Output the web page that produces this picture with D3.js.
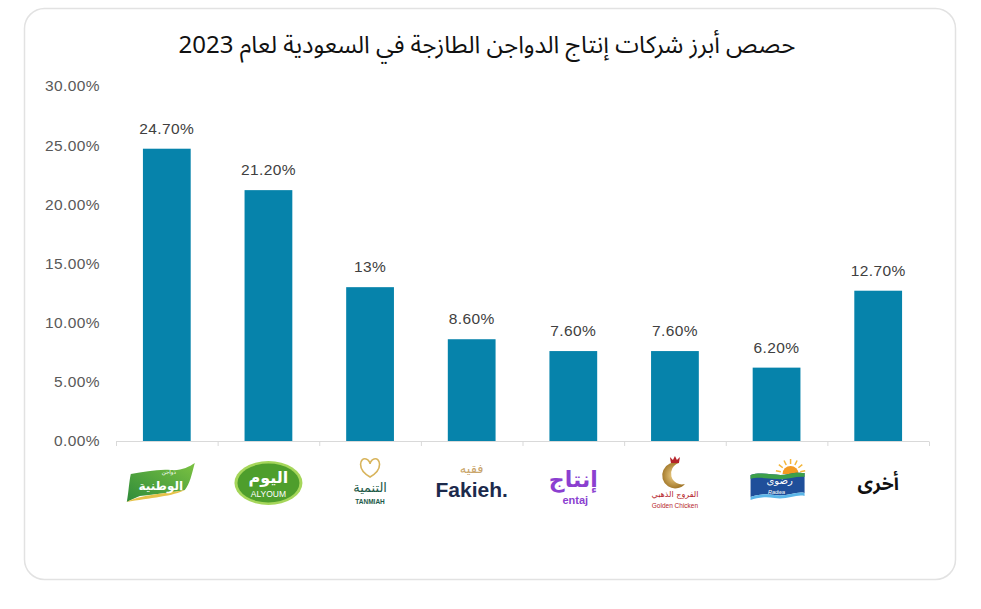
<!DOCTYPE html>
<html>
<head>
<meta charset="utf-8">
<script src="https://cdn.jsdelivr.net/npm/d3@7"></script>
<style>
  html, body { margin: 0; padding: 0; background: #fff; }
  svg { display: block; }
  .tick text { font-family: "Liberation Sans", Arial, sans-serif; }
</style>
</head>
<body>
<div id="chart"></div>
<script>
// Data
const companies = ["الوطنية", "اليوم", "التنمية", "فقيه", "إنتاج", "الفروج الذهبي", "رضوى", "أخرى"];
const shares = [24.7, 21.2, 13, 8.6, 7.6, 7.6, 6.2, 12.7];
const shareLabels = ["24.70%", "21.20%", "13%", "8.60%", "7.60%", "7.60%", "6.20%", "12.70%"];
const yTicks = [0, 5, 10, 15, 20, 25, 30];
const title = "حصص أبرز شركات إنتاج الدواجن الطازجة في السعودية لعام 2023";

const W = 981, H = 609;
const arabicFont = '"Noto Sans Arabic", "DejaVu Sans", sans-serif';
const logoFont = '"DejaVu Sans", sans-serif';
const latinFont = '"Liberation Sans", Arial, sans-serif';

const svg = d3.select("#chart").append("svg")
  .attr("width", W)
  .attr("height", H);
const defs = svg.append("defs");

// card
svg.append("rect")
  .attr("x", 24.5).attr("y", 8.5)
  .attr("width", 931).attr("height", 571)
  .attr("rx", 20)
  .attr("fill", "#fff")
  .attr("stroke", "#e2e2e2")
  .attr("stroke-width", 1.5);

// title
svg.append("text")
  .attr("x", 487).attr("y", 53)
  .attr("text-anchor", "middle")
  .attr("direction", "rtl")
  .style("font-family", arabicFont)
  .style("font-size", "24px")
  .attr("fill", "#111")
  .text(title);

// scales
const x = d3.scaleBand().domain(companies).range([116, 929]).paddingInner(0.53).paddingOuter(0.265);
const y = d3.scaleLinear().domain([0, 30]).range([441, 86]);

// y axis (labels only)
const yAxis = svg.append("g")
  .attr("transform", "translate(100,0)")
  .call(d3.axisLeft(y).tickValues(yTicks).tickSize(0).tickPadding(0).tickFormat(d => d3.format(".2f")(d) + "%"));
yAxis.select(".domain").remove();
yAxis.selectAll("text")
  .attr("fill", "#595959")
  .style("font-size", "15.5px")
  .style("letter-spacing", "0.4px");

// x axis line with boundary ticks
const xb = d3.scaleLinear().domain([0, companies.length]).range([116, 929]);
svg.append("line")
  .attr("x1", 116).attr("x2", 929)
  .attr("y1", 441.5).attr("y2", 441.5)
  .attr("stroke", "#d9d9d9").attr("stroke-width", 1);
svg.append("g").selectAll("line")
  .data(d3.range(companies.length + 1))
  .join("line")
  .attr("x1", d => xb(d) + 0.5).attr("x2", d => xb(d) + 0.5)
  .attr("y1", 441.5).attr("y2", 446)
  .attr("stroke", "#d9d9d9");

// bars
svg.append("g").selectAll("rect")
  .data(companies)
  .join("rect")
  .attr("x", d => x(d))
  .attr("width", x.bandwidth())
  .attr("y", (d, i) => y(shares[i]))
  .attr("height", (d, i) => y(0) - y(shares[i]))
  .attr("fill", "#0683ab");

// value labels
svg.append("g").selectAll("text")
  .data(companies)
  .join("text")
  .attr("x", d => x(d) + x.bandwidth() / 2)
  .attr("y", (d, i) => y(shares[i]) - 15)
  .attr("text-anchor", "middle")
  .style("font-family", latinFont)
  .style("font-size", "15.5px")
  .style("letter-spacing", "0.4px")
  .attr("fill", "#404040")
  .text((d, i) => shareLabels[i]);

// logos (simplified drawings of the brand marks)
const logoY = 483;
const logos = svg.append("g");

function cx(name) { return x(name) + x.bandwidth() / 2; }

// Al Watania
(function () {
  const g = logos.append("g").attr("transform", `translate(${cx(companies[0])},${logoY})`);
  const grad = defs.append("linearGradient").attr("id", "watGrad")
    .attr("x1", 0).attr("x2", 1).attr("y1", 1).attr("y2", 0);
  grad.append("stop").attr("offset", 0).attr("stop-color", "#2e8b3a");
  grad.append("stop").attr("offset", 1).attr("stop-color", "#7cc242");
  g.append("path")
    .attr("d", "M-36,-9 C-22,-11 -10,-14 4,-13 C14,-12 22,-16 28,-20 C25,-9 23,1 18,7 C8,9 -8,11 -27,13 C-32,15 -36,17 -40,19 C-38,8 -38,0 -36,-9 Z")
    .attr("fill", "url(#watGrad)");
  g.append("path")
    .attr("d", "M-40,19 C-28,12 -5,11 18,7 C8,13 -18,15 -40,19 Z")
    .attr("fill", "#e6c24a");
  g.append("text").attr("x", 2).attr("y", -9).attr("text-anchor", "middle")
    .style("font-family", logoFont).style("font-size", "5.5px").attr("fill", "#fff").text("دواجن");
  g.append("text").attr("x", -6).attr("y", 7).attr("text-anchor", "middle")
    .style("font-family", logoFont).style("font-size", "12px").style("font-weight", "bold")
    .attr("fill", "#fff").text("الوطنية");
})();

// Alyoum
(function () {
  const g = logos.append("g").attr("transform", `translate(${cx(companies[1])},${logoY})`);
  g.append("ellipse").attr("rx", 34).attr("ry", 22).attr("fill", "#a5d65a");
  g.append("ellipse").attr("rx", 31).attr("ry", 19.5).attr("fill", "#4e9e2c");
  g.append("text").attr("x", 0).attr("y", 0).attr("text-anchor", "middle")
    .style("font-family", logoFont).style("font-size", "16px").style("font-weight", "bold")
    .attr("fill", "#fff").text("اليوم");
  g.append("text").attr("x", 0).attr("y", 14).attr("text-anchor", "middle")
    .style("font-family", latinFont).style("font-size", "8.5px")
    .attr("fill", "#fff").text("ALYOUM");
})();

// Tanmiah
(function () {
  const g = logos.append("g").attr("transform", `translate(${cx(companies[2])},${logoY})`);
  g.append("path")
    .attr("d", "M0,-6 C-14,-14 -10,-26 -4,-24 C-1,-23 0,-20 0,-19 C0,-20 1,-23 4,-24 C10,-26 14,-14 0,-6 Z")
    .attr("fill", "none").attr("stroke", "#d8b45c").attr("stroke-width", 1.6);
  g.append("text").attr("x", 0).attr("y", 9).attr("text-anchor", "middle")
    .style("font-family", logoFont).style("font-size", "13px")
    .attr("fill", "#1d5a48").text("التنمية");
  g.append("text").attr("x", 0).attr("y", 21).attr("text-anchor", "middle")
    .style("font-family", latinFont).style("font-size", "6.5px").style("font-weight", "bold")
    .attr("fill", "#1d5a48").text("TANMIAH");
})();

// Fakieh
(function () {
  const g = logos.append("g").attr("transform", `translate(${cx(companies[3])},${logoY})`);
  g.append("text").attr("x", 0).attr("y", -10).attr("text-anchor", "middle")
    .style("font-family", logoFont).style("font-size", "13px")
    .attr("fill", "#caa66c").text("فقيه");
  g.append("text").attr("x", 0).attr("y", 14).attr("text-anchor", "middle")
    .style("font-family", latinFont).style("font-size", "21px").style("font-weight", "bold")
    .attr("fill", "#1c2a4c").text("Fakieh.");
})();

// Entaj
(function () {
  const g = logos.append("g").attr("transform", `translate(${cx(companies[4])},${logoY})`);
  g.append("text").attr("x", 0).attr("y", 4).attr("text-anchor", "middle")
    .style("font-family", logoFont).style("font-size", "22px").style("font-weight", "bold")
    .attr("fill", "#8b3fd0").text("إنتاج");
  g.append("text").attr("x", 2).attr("y", 21).attr("text-anchor", "middle")
    .style("font-family", latinFont).style("font-size", "11px").style("font-weight", "bold")
    .attr("fill", "#8b3fd0").text("entaj");
})();

// Golden Chicken
(function () {
  const g = logos.append("g").attr("transform", `translate(${cx(companies[5])},${logoY})`);
  const grad = defs.append("radialGradient").attr("id", "goldGrad");
  grad.append("stop").attr("offset", 0).attr("stop-color", "#f0d28a");
  grad.append("stop").attr("offset", 1).attr("stop-color", "#a47a2c");
  g.append("path")
    .attr("d", "M4,-20 A13,13 0 1 0 10,1 A9,9 0 1 1 4,-20 Z")
    .attr("fill", "url(#goldGrad)");
  g.append("path")
    .attr("d", "M-4,-20 L-5,-26 L-2,-23 L0,-27 L2,-23 L5,-26 L4,-20 Z")
    .attr("fill", "#b5232a");
  g.append("text").attr("x", 0).attr("y", 14).attr("text-anchor", "middle")
    .style("font-family", logoFont).style("font-size", "8px")
    .attr("fill", "#b5232a").text("الفروج الذهبي");
  g.append("text").attr("x", 0).attr("y", 25).attr("text-anchor", "middle")
    .style("font-family", latinFont).style("font-size", "6.5px")
    .attr("fill", "#b5232a").text("Golden Chicken");
})();

// Radwa
(function () {
  const g = logos.append("g").attr("transform", `translate(${cx(companies[6])},${logoY})`);
  const sx = 14, sy = -9;
  d3.range(7).forEach(k => {
    const a = Math.PI + (k + 0.5) * Math.PI / 7;
    g.append("line")
      .attr("x1", sx + 10 * Math.cos(a)).attr("y1", sy + 10 * Math.sin(a))
      .attr("x2", sx + 15 * Math.cos(a)).attr("y2", sy + 15 * Math.sin(a))
      .attr("stroke", "#f4b63a").attr("stroke-width", 1.5);
  });
  g.append("path").attr("d", `M${sx - 8},${sy} A8,8 0 0 1 ${sx + 8},${sy} Z`).attr("fill", "#f39a22");
  g.append("path")
    .attr("d", "M-26,-8 C-14,-12 0,-6 12,-9 C20,-11 25,-10 28,-10 L28,10 C20,8 10,14 -2,12 C-12,10 -20,12 -26,14 Z")
    .attr("fill", "#1f4f9a");
  g.append("path")
    .attr("d", "M-26,-8 C-14,-12 0,-6 12,-9 C20,-11 25,-10 28,-10 L28,-6 C20,-7 10,-3 0,-4 C-12,-5 -20,-6 -26,-4 Z")
    .attr("fill", "#3da04a");
  g.append("path")
    .attr("d", "M-26,14 C-20,12 -12,10 -2,12 C10,14 20,8 28,10 L28,13 C20,11 10,17 -2,15 C-12,13 -20,15 -26,17 Z")
    .attr("fill", "#5bb6e8");
  g.append("text").attr("x", 3).attr("y", 1).attr("text-anchor", "middle")
    .style("font-family", logoFont).style("font-size", "10px")
    .attr("fill", "#fff").text("رضوى");
  g.append("text").attr("x", 0).attr("y", 11).attr("text-anchor", "middle")
    .style("font-family", latinFont).style("font-size", "5.5px").style("font-style", "italic")
    .attr("fill", "#fff").text("Radwa");
})();

// Others
logos.append("text")
  .attr("x", cx(companies[7])).attr("y", logoY + 7)
  .attr("text-anchor", "middle")
  .style("font-family", arabicFont).style("font-size", "19px").style("font-weight", "bold")
  .attr("fill", "#111").text(companies[7]);
</script>
</body>
</html>
